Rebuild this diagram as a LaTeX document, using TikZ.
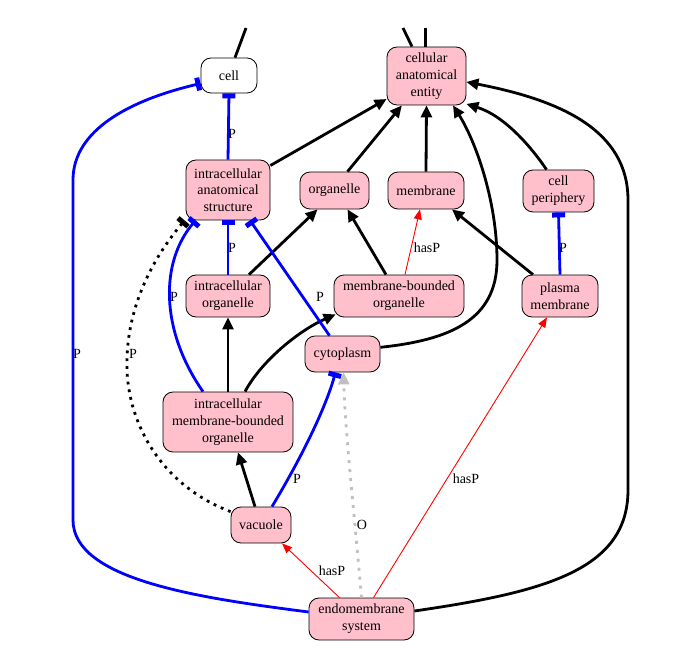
\documentclass[tikz,border=0pt]{standalone}
\usepackage{fontspec}
\setmainfont{Liberation Serif}
\usetikzlibrary{arrows.meta,calc}
\definecolor{pinkfill}{HTML}{FFC0CB}
\definecolor{edgegray}{HTML}{C0C0C0}
\tikzset{
  x=1pt, y=-1pt,
  box/.style={draw=black, line width=0.8pt, fill=pinkfill, rounded corners=10pt,
    align=center, inner sep=0pt, font=\fontsize{14}{16.7}\selectfont},
  whitebox/.style={box, fill=white},
  lbl/.style={inner sep=0pt, font=\fontsize{14}{16.7}\selectfont},
  blk/.style={draw=black, line width=2.8pt, -{Triangle[length=12pt,width=11pt]}},
  blkplain/.style={draw=black, line width=2.8pt},
  teeb/.style={draw=blue, line width=2.8pt, -{Rectangle[length=5pt,width=13pt]}},
  redarr/.style={draw=red, line width=0.9pt, -{Triangle[length=10pt,width=8pt]}},
  dotblk/.style={draw=black, line width=2.8pt, dash pattern=on 2.8pt off 5pt, -{Rectangle[length=5pt,width=13pt]}},
  dotgray/.style={draw=edgegray, line width=2.8pt, dash pattern=on 3pt off 6pt, -{Triangle[length=12pt,width=11pt]}},
}
\begin{document}
\begin{tikzpicture}
\useasboundingbox (0,0) rectangle (697,647);
% nodes
\node[whitebox, minimum width=56pt, minimum height=35pt] (cell) at (229,75.5) {cell};
\node[box, minimum width=79pt, minimum height=58pt] (cae) at (426.5,76) {cellular\\anatomical\\entity};
\node[box, minimum width=84pt, minimum height=60pt] (ias) at (228,190) {intracellular\\anatomical\\structure};
\node[box, minimum width=69pt, minimum height=37pt] (org) at (334.5,190.5) {organelle};
\node[box, minimum width=76pt, minimum height=37pt] (mem) at (426,190.5) {membrane};
\node[box, minimum width=71pt, minimum height=42pt] (cp) at (558.5,191) {cell\\periphery};
\node[box, minimum width=84pt, minimum height=42pt] (io) at (228,296) {intracellular\\organelle};
\node[box, minimum width=130pt, minimum height=42pt] (mbo) at (399,296) {membrane-bounded\\organelle};
\node[box, minimum width=76pt, minimum height=42pt] (pm) at (560,296) {plasma\\membrane};
\node[box, minimum width=75pt, minimum height=36pt] (cyto) at (342.5,354) {cytoplasm};
\node[box, minimum width=130pt, minimum height=60pt] (imbo) at (228,422) {intracellular\\membrane-bounded\\organelle};
\node[box, minimum width=60pt, minimum height=36pt] (vac) at (261,525) {vacuole};
\node[box, minimum width=105pt, minimum height=42pt] (emb) at (361.5,619) {endomembrane\\system};

% cut-off edges at top
\coordinate (top1) at (246,28);
\coordinate (top2) at (403,28);
\coordinate (top3) at (425.5,28);
\draw[blkplain] (top1) -- ($(cell.north)+(6,0)$);
\draw[blkplain] (top2) -- ($(cae.north)+(-14.5,0)$);
\draw[blkplain] (top3) -- ($(cae.north)+(-1,0)$);

% is_a edges (black)
\draw[blk] (ias.30) -- (cae.-150);
\draw[blk] ($(org.north)+(13,0)$) -- (cae.-130);
\draw[blk] (mem.north) -- (cae.south);
\draw[blk] ($(cp.north)+(-12,0)$) .. controls (532,148) and (505,116) .. (cae.-35);
\draw[blk] (cyto.10) .. controls (450,340) and (497,320) .. (497,260) .. controls (497,200) and (475,140) .. (cae.-48);
\draw[blk] ($(emb.east)+(0,-8)$) .. controls (545,592) and (628,570) .. (628,490) -- (628,200) .. controls (628,130) and (560,100) .. ($(cae.east)+(0,6)$);
\draw[blk] ($(io.north)+(21,0)$) -- ($(org.south)+(-17,0)$);
\draw[blk] ($(mbo.north)+(-13,0)$) -- ($(org.south)+(13,0)$);
\draw[blk] ($(pm.north)+(-27,0)$) -- ($(mem.south)+(26,0)$);
\draw[blk] (imbo.north) -- (io.south);
\draw[blk] ($(imbo.north)+(17,0)$) .. controls (262,360) and (300,330) .. ($(mbo.south west)+(2,-3)$);
\draw[blk] ($(vac.north)+(-6,0)$) -- ($(imbo.south)+(10,0)$);

% part_of edges (blue)
\draw[teeb] (ias.north) -- (cell.south);
\draw[teeb] (io.north) -- (ias.south);
\draw[teeb] (pm.north) -- (cp.south);
\draw[teeb] ($(cyto.north)+(-13,0)$) -- ($(ias.south)+(22,0)$);
\draw[teeb] ($(imbo.north)+(-25,0)$) .. controls (160,330) and (160,262) .. ($(ias.south west)+(10,0)$);
\draw[teeb] ($(vac.north)+(11,0)$) .. controls (300,460) and (325,410) .. ($(cyto.south)+(-7,0)$);
\draw[teeb] ($(emb.west)+(0,-7)$) .. controls (200,598) and (73,580) .. (73,520) -- (73,180) .. controls (73,130) and (130,100) .. ($(cell.west)+(0,8)$);

% dotted part_of
\draw[dotblk] ($(vac.north west)+(0,5)$) .. controls (160,485) and (125,420) .. (127,360) .. controls (128,300) and (158,252) .. ($(ias.south west)+(-1,0)$);

% has_part (red)
\draw[redarr] ($(mbo.north)+(6,0)$) -- ($(mem.south)+(-6,0)$);
\draw[redarr] ($(emb.north)+(-22,0)$) -- ($(vac.south)+(21,0)$);
\draw[redarr] ($(emb.north)+(12,0)$) -- ($(pm.south)+(-13,0)$);

% overlaps (gray dotted)
\draw[dotgray] (emb.north) .. controls (354,510) and (345,430) .. ($(cyto.south)+(1,0)$);

% labels
\node[lbl] (l1) at (232,134) {P};
\node[lbl] (l2) at (232,248) {P};
\node[lbl] (l3) at (174,297) {P};
\node[lbl] (l4) at (320,297) {P};
\node[lbl] (l5) at (427,248) {hasP};
\node[lbl] (l6) at (563,248) {P};
\node[lbl] (l7) at (133,354) {P};
\node[lbl] (l8) at (77,354) {P};
\node[lbl] (l9) at (297,479) {P};
\node[lbl] (l10) at (362,525) {O};
\node[lbl] (l11) at (332,571) {hasP};
\node[lbl] (l12) at (466,479) {hasP};
\end{tikzpicture}
\end{document}
